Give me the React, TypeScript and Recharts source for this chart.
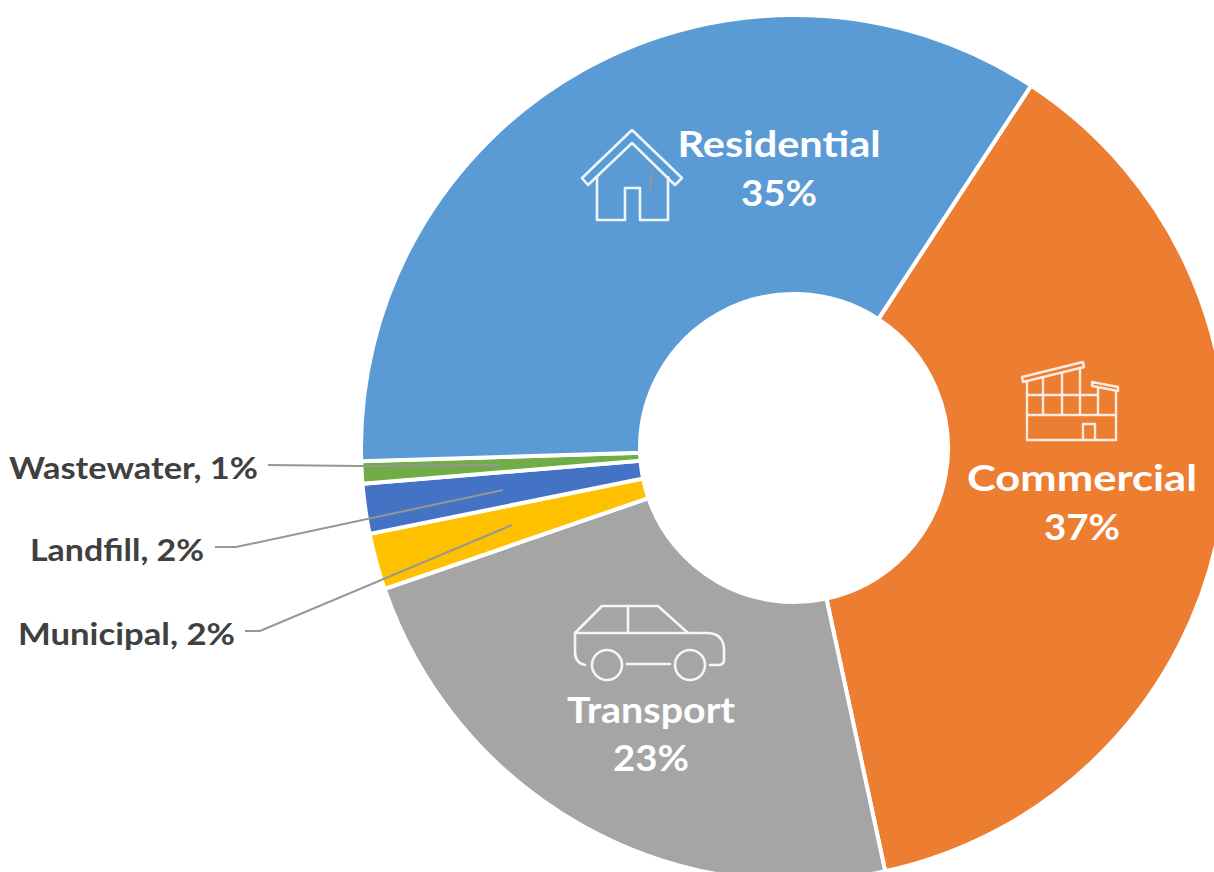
import React from "react";
import { PieChart, Pie, Cell } from "recharts";

const categories = ["Commercial", "Transport", "Municipal", "Landfill", "Wastewater", "Residential"];
const shares = [37.4, 23.1, 2.1, 1.86, 0.83, 34.71];
const shownPercent = ["37%", "23%", "2%", "2%", "1%", "35%"];
const colors = ["#ED7D31", "#A5A5A5", "#FFC000", "#4472C4", "#70AD47", "#5B9BD5"];

const rows = categories.map((name, i) => ({ name, value: shares[i], shown: shownPercent[i] }));

const FONT = "Lato, 'Noto Sans', sans-serif";
const DARK = "#404040";
const LEADER = "#969696";

const House = () => (
  <g fill="none" stroke="#fff" strokeWidth={2.6} strokeLinejoin="round" opacity={0.9}>
    <path d="M632 130 L682 178 L675 185 L632 143 L588 185 L582 178 Z" />
    <path d="M597 176 V220 H625 V188 H640 V220 H668 V176" />
    <path d="M652 170 L650 190" stroke={LEADER} strokeWidth={2} />
  </g>
);

const Building = () => (
  <g fill="none" stroke="#fff" strokeWidth={2.4} strokeLinejoin="round" opacity={0.85}>
    <path d="M1022 377 L1083 362 L1084 367 L1023 382 Z" />
    <path d="M1092 382 L1118 387 L1118 391 L1092 386 Z" />
    <path d="M1027 381 V440 H1116 V390" />
    <path d="M1043 377 V415 M1062 372 V415 M1080 368 V415 M1098 387 V415" />
    <path d="M1027 395 H1098 M1027 415 H1116" />
    <path d="M1083 440 V424 H1095 V440" />
  </g>
);

const Car = () => (
  <g fill="none" stroke="#fff" strokeWidth={2.6} strokeLinejoin="round" strokeLinecap="round" opacity={0.9}>
    <path d="M585 665 Q575 663 575 652 V633 L602 606 H658 L688 633 H708 Q724 634 724 650 V660 Q724 665 718 665 H710" />
    <path d="M575 633 H688 M628 606 V633 M627 664 H670" />
    <circle cx={607} cy={665} r={15} />
    <circle cx={690} cy={665} r={15} />
  </g>
);

type BigLayout = { x: number; y1: number; y2: number; len: number; pctLen: number; icon: React.ReactNode };
const bigLabels: Record<string, BigLayout> = {
  Residential: { x: 779, y1: 157, y2: 206, len: 203, pctLen: 76, icon: <House /> },
  Commercial: { x: 1082, y1: 491, y2: 540, len: 230, pctLen: 76, icon: <Building /> },
  Transport: { x: 651, y1: 723, y2: 771, len: 168, pctLen: 76, icon: <Car /> },
};

type SmallLayout = { x1: number; x2: number; y: number; len: number; line: string };
const smallLabels: Record<string, SmallLayout> = {
  Wastewater: { x1: 9, x2: 258, y: 479, len: 249, line: "268,465 360,466 500,465" },
  Landfill: { x1: 30, x2: 204, y: 561, len: 174, line: "215,547 236,547 503,490" },
  Municipal: { x1: 18, x2: 235, y: 645, len: 217, line: "245,631 260,631 512,525" },
};

const renderLabel = (props: any) => {
  const name: string = props.name;
  const shown: string = props.payload?.shown ?? props.shown;
  const big = bigLabels[name];
  if (big) {
    return (
      <g key={name}>
        {big.icon}
        <text x={big.x} y={big.y1} textAnchor="middle" fill="#fff" fontFamily={FONT} fontWeight={700} fontSize={36} textLength={big.len} lengthAdjust="spacingAndGlyphs">{name}</text>
        <text x={big.x} y={big.y2} textAnchor="middle" fill="#fff" fontFamily={FONT} fontWeight={700} fontSize={36} textLength={big.pctLen} lengthAdjust="spacingAndGlyphs">{shown}</text>
      </g>
    );
  }
  const small = smallLabels[name];
  return (
    <g key={name}>
      <polyline points={small.line} fill="none" stroke={LEADER} strokeWidth={2} />
      <text x={small.x1} y={small.y} fill={DARK} fontFamily={FONT} fontWeight={700} fontSize={31} textLength={small.len} lengthAdjust="spacingAndGlyphs">{`${name}, ${shown}`}</text>
    </g>
  );
};

export default function App() {
  return (
    <div style={{ position: "absolute", left: 0, top: 0, width: 1214, height: 872, background: "#fff", overflow: "hidden" }}>
      <PieChart width={1214} height={872} margin={{ top: 0, right: 0, bottom: 0, left: 0 }}>
        <Pie
          data={rows}
          dataKey="value"
          nameKey="name"
          cx={794}
          cy={448}
          innerRadius={154}
          outerRadius={433}
          startAngle={56.8}
          endAngle={-303.2}
          stroke="#fff"
          strokeWidth={4}
          isAnimationActive={false}
          label={renderLabel}
          labelLine={false}
        >
          {rows.map((r, i) => (
            <Cell key={r.name} fill={colors[i]} />
          ))}
        </Pie>
      </PieChart>
    </div>
  );
}
